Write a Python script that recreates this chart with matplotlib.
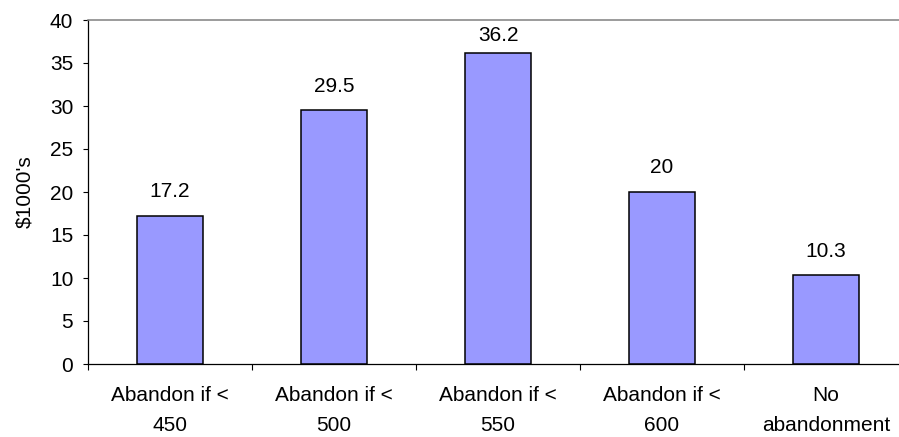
import matplotlib
matplotlib.use("Agg")
import matplotlib.pyplot as plt
import numpy as np

categories = ["Abandon if <\n450", "Abandon if <\n500", "Abandon if <\n550",
              "Abandon if <\n600", "No\nabandonment"]
values = [17.2, 29.5, 36.2, 20, 10.3]
value_labels = ["17.2", "29.5", "36.2", "20", "10.3"]
y_ticks = [0, 5, 10, 15, 20, 25, 30, 35, 40]

plt.rcParams["font.family"] = ["Liberation Sans", "DejaVu Sans"]
plt.rcParams["font.size"] = 15

fig = plt.figure(figsize=(8.99, 4.37), dpi=100)
ax = fig.add_axes([88 / 899, 1 - 364 / 437, 820 / 899, 344 / 437])

x = np.arange(len(categories))
ax.bar(x, values, width=0.40, color="#9999FF", edgecolor="black",
       linewidth=1.1, zorder=3)

ymax = 40
ax.set_xlim(-0.5, len(categories) - 0.5)
ax.set_ylim(0, ymax)

# Value labels sit above each bar, but are pushed down so they stay
# inside the plot area when a bar is close to the top.
axes_height_pt = ax.get_position().height * fig.get_figheight() * 72
pt_per_unit = axes_height_pt / ymax
for xi, v, lab in zip(x, values, value_labels):
    room_pt = (ymax - v) * pt_per_unit
    offset = min(13.5, room_pt - 15)
    ax.annotate(lab, (xi, v), xytext=(0, offset), textcoords="offset points",
                ha="center", va="baseline", fontsize=15)

ax.set_yticks(y_ticks)
ax.set_yticklabels([str(t) for t in y_ticks])
ax.tick_params(axis="y", direction="out", length=3.6, width=0.8, pad=7,
               colors="black")

ax.set_xticks(x)
ax.set_xticklabels(categories, linespacing=1.75)
ax.tick_params(axis="x", which="major", length=0, pad=16)
ax.set_xticks(np.arange(-0.5, len(categories), 1.0), minor=True)
ax.tick_params(axis="x", which="minor", direction="out", length=4, width=0.8)

ax.set_ylabel("$1000's", fontsize=15, labelpad=11)

ax.spines["left"].set_color("black")
ax.spines["left"].set_linewidth(0.9)
ax.spines["bottom"].set_color("black")
ax.spines["bottom"].set_linewidth(0.9)
ax.spines["top"].set_color("#808080")
ax.spines["top"].set_linewidth(1.1)
ax.spines["right"].set_visible(False)

fig.savefig("out.png", dpi=100)
